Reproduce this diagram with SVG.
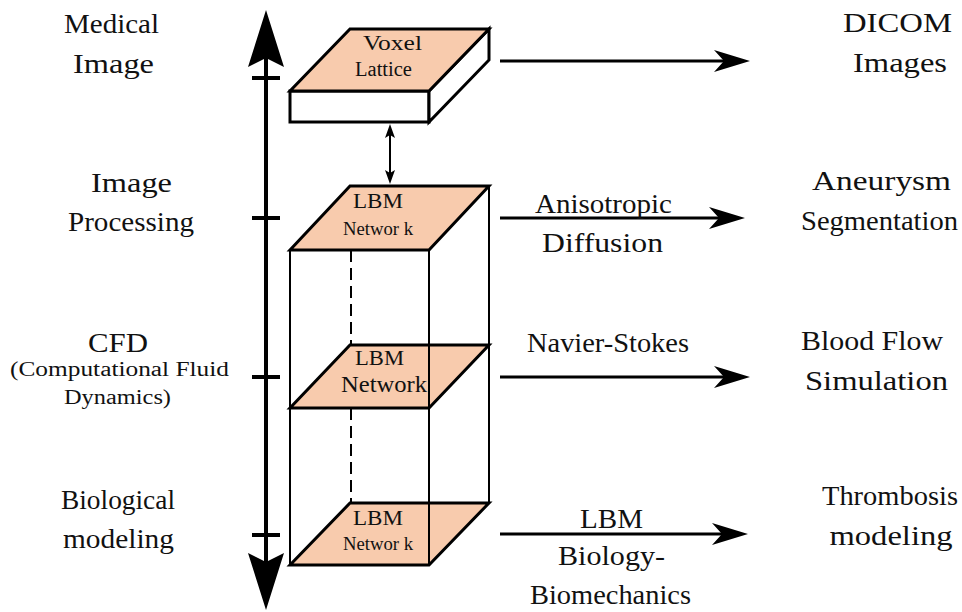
<svg xmlns="http://www.w3.org/2000/svg" width="962" height="612" viewBox="0 0 962 612">
  <style>
    .lbl { font-family: "Times New Roman", "Liberation Serif", serif; font-size: 27px; fill: #111; text-anchor: middle; }
    .sm { font-size: 20px; }
    .face { fill: #F8CBAD; stroke: #000; stroke-width: 3; stroke-linejoin: miter; }
    .white { fill: #fff; stroke: #000; stroke-width: 3; }
    .edge { fill: none; stroke: #000; stroke-width: 2; }
    .dash { fill: none; stroke: #000; stroke-width: 2; stroke-dasharray: 12 6; }
    .ftxt { font-family: "Times New Roman", "Liberation Serif", serif; fill: #111; text-anchor: middle; }
    .arr { fill: none; stroke: #000; stroke-width: 3; }
    .head { fill: #000; stroke: none; }
  </style>

  <!-- vertical scale axis -->
  <g id="axis">
    <line x1="266" y1="40" x2="266" y2="580" stroke="#000" stroke-width="4"/>
    <path class="head" d="M266,10 L284,67 L266,58 L248,67 Z"/>
    <path class="head" d="M266,610 L284,553 L266,562 L248,553 Z"/>
    <line x1="252" y1="78" x2="280" y2="78" stroke="#000" stroke-width="4"/>
    <line x1="252" y1="218" x2="280" y2="218" stroke="#000" stroke-width="4"/>
    <line x1="252" y1="377" x2="280" y2="377" stroke="#000" stroke-width="4"/>
    <line x1="252" y1="535" x2="280" y2="535" stroke="#000" stroke-width="4"/>
  </g>

  <!-- left level labels -->
  <g id="levels">
    <text class="lbl" x="111.5" y="33" textLength="95" lengthAdjust="spacingAndGlyphs">Medical</text>
    <text class="lbl" x="113.5" y="73" textLength="81" lengthAdjust="spacingAndGlyphs">Image</text>
    <text class="lbl" x="131.5" y="192" textLength="81" lengthAdjust="spacingAndGlyphs">Image</text>
    <text class="lbl" x="131" y="231" textLength="126" lengthAdjust="spacingAndGlyphs">Processing</text>
    <text class="lbl" x="118" y="352" textLength="60" lengthAdjust="spacingAndGlyphs">CFD</text>
    <text class="lbl sm" x="119.5" y="376" textLength="219" lengthAdjust="spacingAndGlyphs">(Computational Fluid</text>
    <text class="lbl sm" x="117.5" y="404" textLength="107" lengthAdjust="spacingAndGlyphs">Dynamics)</text>
    <text class="lbl" x="118" y="509" textLength="114" lengthAdjust="spacingAndGlyphs">Biological</text>
    <text class="lbl" x="118.5" y="548" textLength="111" lengthAdjust="spacingAndGlyphs">modeling</text>
  </g>

  <!-- voxel lattice slab -->
  <g id="voxel-lattice">
    <rect class="white" x="290" y="91" width="139" height="31"/>
    <path class="white" d="M429,91 L489,29 L489,60 L429,122 Z"/>
    <path class="face" d="M350,29 L489,29 L429,91 L290,91 Z"/>
    <text class="ftxt" x="392.5" y="50" font-size="22" textLength="59" lengthAdjust="spacingAndGlyphs">Voxel</text>
    <text class="ftxt" x="383.5" y="76" font-size="20" textLength="57" lengthAdjust="spacingAndGlyphs">Lattice</text>
  </g>

  <!-- LBM network stack -->
  <g id="lbm-stack">
    <line class="edge" x1="290" y1="250" x2="290" y2="565"/>
    <line class="edge" x1="489" y1="186" x2="489" y2="503"/>
    <line class="dash" x1="351" y1="250" x2="351" y2="345"/>
    <line class="dash" x1="351" y1="408" x2="351" y2="503"/>
  </g>

  <g id="lbm-top">
    <path class="face" d="M350,186 L489,186 L429,250 L290,250 Z"/>
    <text class="ftxt" x="378" y="208" font-size="22" textLength="50" lengthAdjust="spacingAndGlyphs">LBM</text>
    <text class="ftxt" x="378" y="235" font-size="18" textLength="70" lengthAdjust="spacingAndGlyphs">Networ k</text>
  </g>

  <g id="lbm-middle">
    <path class="face" d="M350,345 L489,345 L429,408 L290,408 Z"/>
    <text class="ftxt" x="379.5" y="365" font-size="22" textLength="49" lengthAdjust="spacingAndGlyphs">LBM</text>
    <text class="ftxt" x="384" y="392" font-size="24" textLength="86" lengthAdjust="spacingAndGlyphs">Network</text>
  </g>

  <g id="lbm-bottom">
    <path class="face" d="M350,503 L489,503 L429,565 L290,565 Z"/>
    <text class="ftxt" x="378" y="525" font-size="22" textLength="50" lengthAdjust="spacingAndGlyphs">LBM</text>
    <text class="ftxt" x="378" y="550" font-size="18" textLength="70" lengthAdjust="spacingAndGlyphs">Networ k</text>
  </g>

  <!-- front right edge over the faces -->
  <g id="lbm-front-edge">
    <line class="edge" x1="429" y1="250" x2="429" y2="565"/>
  </g>

  <!-- connectors -->
  <g id="connectors">
    <line x1="390" y1="132" x2="390" y2="176" stroke="#000" stroke-width="2"/>
    <path class="head" d="M390,124 L395,138 L390,135 L385,138 Z"/>
    <path class="head" d="M390,184 L395,170 L390,173 L385,170 Z"/>

    <line class="arr" x1="500" y1="61" x2="728" y2="61"/>
    <path class="head" d="M750,61 L714,50 L724,61 L714,72 Z"/>

    <line class="arr" x1="500" y1="218" x2="723" y2="218"/>
    <path class="head" d="M745,218 L709,207 L719,218 L709,229 Z"/>

    <line class="arr" x1="500" y1="377" x2="728" y2="377"/>
    <path class="head" d="M750,377 L714,366 L724,377 L714,388 Z"/>

    <line class="arr" x1="500" y1="534" x2="726" y2="534"/>
    <path class="head" d="M748,534 L712,523 L722,534 L712,545 Z"/>
  </g>

  <!-- connector labels -->
  <g id="connector-labels">
    <text class="lbl" x="603.5" y="213" textLength="137" lengthAdjust="spacingAndGlyphs">Anisotropic</text>
    <text class="lbl" x="602.5" y="252" textLength="121" lengthAdjust="spacingAndGlyphs">Diffusion</text>
    <text class="lbl" x="608" y="352" textLength="162" lengthAdjust="spacingAndGlyphs">Navier-Stokes</text>
    <text class="lbl" x="611.5" y="528" textLength="63" lengthAdjust="spacingAndGlyphs">LBM</text>
    <text class="lbl" x="611.5" y="565" textLength="107" lengthAdjust="spacingAndGlyphs">Biology-</text>
    <text class="lbl" x="610.5" y="604" textLength="161" lengthAdjust="spacingAndGlyphs">Biomechanics</text>
  </g>

  <!-- right outcome labels -->
  <g id="outcomes">
    <text class="lbl" x="897.5" y="32" textLength="109" lengthAdjust="spacingAndGlyphs">DICOM</text>
    <text class="lbl" x="900" y="72" textLength="94" lengthAdjust="spacingAndGlyphs">Images</text>
    <text class="lbl" x="881.5" y="190" textLength="139" lengthAdjust="spacingAndGlyphs">Aneurysm</text>
    <text class="lbl" x="879.5" y="230" textLength="157" lengthAdjust="spacingAndGlyphs">Segmentation</text>
    <text class="lbl" x="872" y="350" textLength="142" lengthAdjust="spacingAndGlyphs">Blood Flow</text>
    <text class="lbl" x="876.5" y="390" textLength="143" lengthAdjust="spacingAndGlyphs">Simulation</text>
    <text class="lbl" x="890" y="505" textLength="136" lengthAdjust="spacingAndGlyphs">Thrombosis</text>
    <text class="lbl" x="891" y="545" textLength="123" lengthAdjust="spacingAndGlyphs">modeling</text>
  </g>
</svg>
